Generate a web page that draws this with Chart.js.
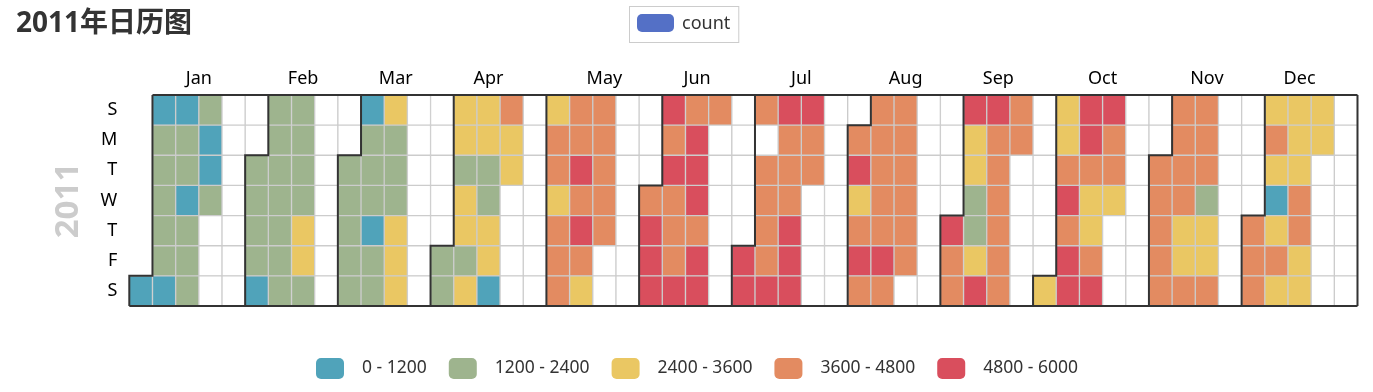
<!DOCTYPE html>
<html>
<head>
<meta charset="utf-8">
<title>2011年日历图</title>
<script src="https://cdn.jsdelivr.net/npm/chart.js@4.4.0/dist/chart.umd.min.js"></script>
<style>
  html, body { margin: 0; padding: 0; background: #fff; }
  #wrap { width: 1373px; height: 392px; }
</style>
</head>
<body>
<div id="wrap"><canvas id="calendar"></canvas></div>
<script>
// calendar data, 2011, daily counts for days 1-19 of each month
const year = 2011;
const monthLabels = ['Jan', 'Feb', 'Mar', 'Apr', 'May', 'Jun', 'Jul', 'Aug', 'Sep', 'Oct', 'Nov', 'Dec'];
const dayLabels = ['S', 'M', 'T', 'W', 'T', 'F', 'S'];

const pieceLabels = ['0 - 1200', '1200 - 2400', '2400 - 3600', '3600 - 4800', '4800 - 6000'];
const pieceMin = [0, 1200, 2400, 3600, 4800];
const pieceMax = [1200, 2400, 3600, 4800, 6000];
const pieceColors = ['#50a3ba', '#9eb48e', '#eac763', '#e38b61', '#d94e5d'];

const jan = [985, 801, 1349, 1562, 1600, 1606, 1510, 959, 822, 1321, 1263, 1162, 1406, 1421, 1248, 1204, 1000, 683, 1650];
const feb = [1360, 1526, 1550, 1708, 1005, 1623, 1712, 1530, 1605, 1538, 1746, 1472, 1589, 1913, 1815, 2115, 2475, 2927, 1635];
const mar = [1851, 2134, 1685, 1944, 2077, 605, 1872, 2133, 1891, 623, 1977, 2132, 2417, 2046, 2056, 2192, 2744, 3239, 3117];
const apr = [2227, 2252, 3249, 3115, 1795, 2808, 3141, 1471, 2455, 2895, 3348, 2034, 2162, 3267, 3126, 795, 3744, 3429, 3204];
const may = [3351, 4401, 4451, 2633, 4433, 4608, 4714, 4333, 4362, 4803, 4182, 4864, 4105, 3409, 4553, 3958, 4123, 3855, 4575];
const jun = [4274, 5020, 4891, 5180, 5115, 4576, 4866, 4334, 4458, 4717, 4940, 4664, 4905, 5312, 5342, 4586, 4906, 4835, 4561];
const jul = [5026, 5119, 4744, 6043, 4590, 4521, 4736, 4679, 5050, 5009, 4372, 4630, 4563, 4868, 5084, 5298, 5127, 4500, 4458];
const aug = [4151, 4904, 3359, 4412, 4996, 4602, 4302, 3974, 4526, 4561, 4668, 5129, 4391, 4672, 4400, 4663, 4609, 4710, 3802];
const sep = [4954, 4580, 4720, 4911, 3351, 2710, 1842, 1996, 3351, 4849, 5302, 4663, 4748, 4648, 3659, 4760, 4511, 4274, 4539];
const oct = [3570, 2689, 2828, 3871, 4809, 4596, 5004, 5409, 5511, 5117, 4563, 2416, 2913, 3644, 5217, 4943, 4672, 4475, 3486];
const nov = [4486, 4563, 4411, 3818, 4036, 4123, 4066, 3831, 4186, 3117, 3267, 3745, 3790, 4094, 3840, 2022, 2867, 3060, 3613];
const dec = [3940, 3899, 3717, 3520, 3741, 2917, 705, 3220, 3614, 3224, 2930, 3325, 3309, 3677, 3705, 3523, 3243, 2998, 3229];

const monthly = [jan, feb, mar, apr, may, jun, jul, aug, sep, oct, nov, dec];

const FONT = "'Noto Sans', 'Noto Sans CJK SC', sans-serif";

// week column / weekday row for a date
const firstWeekday = new Date(year, 0, 1).getDay();
function dayIndex(m, d) {
  return Math.round((new Date(year, m, d) - new Date(year, 0, 1)) / 86400000);
}
function colOf(i) { return Math.floor((i + firstWeekday) / 7); }
function rowOf(i) { return (i + firstWeekday) % 7; }

function colorFor(v) {
  if (v == null) return '#fff';
  for (let k = 0; k < pieceColors.length; k++) {
    if (v >= pieceMin[k] && v <= pieceMax[k]) return pieceColors[k];
  }
  return '#fff';
}

// one floating bar per day
const cells = [];
for (let m = 0; m < 12; m++) {
  const days = new Date(year, m + 1, 0).getDate();
  for (let d = 1; d <= days; d++) {
    const i = dayIndex(m, d);
    const v = d <= monthly[m].length ? monthly[m][d - 1] : null;
    cells.push({ x: colOf(i) + 0.5, y: [rowOf(i), rowOf(i) + 1], v: v });
  }
}
const weeks = colOf(dayIndex(11, 31)) + 1;

// month label sits in the middle of the weeks it spans
const monthCenters = monthLabels.map((_, m) => {
  const first = colOf(dayIndex(m, 1));
  const last = colOf(dayIndex(m + 1, 0));
  return (first + last + 1) / 2;
});

const decor = {
  id: 'decor',
  afterDatasetsDraw(chart) {
    const { ctx, scales: { x, y } } = chart;
    const px = v => x.getPixelForValue(v);
    const py = v => y.getPixelForValue(v);
    ctx.save();
    ctx.strokeStyle = '#333';
    ctx.lineWidth = 2;
    // boundaries at the first day of each month and the day after the year
    for (let m = 0; m <= 12; m++) {
      const i = dayIndex(m, 1);
      const c = colOf(i), r = rowOf(i);
      ctx.beginPath();
      if (r > 0) {
        ctx.moveTo(px(c + 1), py(0));
        ctx.lineTo(px(c + 1), py(r));
        ctx.lineTo(px(c), py(r));
      } else {
        ctx.moveTo(px(c), py(0));
      }
      ctx.lineTo(px(c), py(7));
      ctx.stroke();
    }
    const s = dayIndex(0, 1), e = dayIndex(12, 1);
    ctx.beginPath();
    ctx.moveTo(px(colOf(s) + (rowOf(s) > 0 ? 1 : 0)), py(0));
    ctx.lineTo(px(colOf(e) + (rowOf(e) > 0 ? 1 : 0)), py(0));
    ctx.moveTo(px(colOf(s)), py(7));
    ctx.lineTo(px(colOf(e)), py(7));
    ctx.stroke();
    ctx.restore();
  },
  afterDraw(chart) {
    const ctx = chart.ctx;
    const w = chart.width;
    ctx.save();
    // title
    ctx.fillStyle = '#333';
    ctx.font = 'bold 28px ' + FONT;
    ctx.textBaseline = 'middle';
    ctx.textAlign = 'left';
    ctx.fillText('2011年日历图', 16, 24);

    // series legend, top centre, with frame
    ctx.font = '18px ' + FONT;
    const tw = ctx.measureText('count').width;
    const boxW = 8 + 37 + 8 + tw + 8;
    const bx = Math.round(w / 2 - boxW / 2) - 3;
    ctx.strokeStyle = '#ccc';
    ctx.lineWidth = 1;
    ctx.strokeRect(bx + 0.5, 6.5, boxW, 36);
    ctx.fillStyle = '#5470c6';
    ctx.beginPath();
    ctx.roundRect(bx + 8, 14, 37, 18, 5);
    ctx.fill();
    ctx.fillStyle = '#333';
    ctx.fillText('count', bx + 53, 24);

    // piece legend, bottom
    ctx.font = '17.5px ' + FONT;
    let lx = 316;
    for (let k = 0; k < pieceLabels.length; k++) {
      ctx.fillStyle = pieceColors[k];
      ctx.beginPath();
      ctx.roundRect(lx, 358, 28, 21, 5);
      ctx.fill();
      ctx.fillStyle = '#333';
      ctx.fillText(pieceLabels[k], lx + 46, 368.5);
      lx += 46 + ctx.measureText(pieceLabels[k]).width + 22;
    }
    ctx.restore();
  }
};

new Chart(document.getElementById('calendar'), {
  type: 'bar',
  data: {
    datasets: [{
      label: 'count',
      data: cells,
      backgroundColor: c => colorFor(c.raw && c.raw.v),
      borderColor: '#ccc',
      borderWidth: 1,
      borderSkipped: false,
      barPercentage: 1,
      categoryPercentage: 1
    }]
  },
  options: {
    responsive: true,
    maintainAspectRatio: false,
    animation: false,
    layout: { padding: { left: 0, top: 0, right: 15.5, bottom: 86 } },
    plugins: {
      legend: { display: false },
      tooltip: { enabled: false }
    },
    scales: {
      x: {
        type: 'linear',
        position: 'top',
        offset: false,
        min: 0,
        max: weeks,
        grid: { display: false },
        border: { display: false },
        afterBuildTicks: s => { s.ticks = monthCenters.map(v => ({ value: v })); },
        afterFit: s => { s.height = 95; s.paddingLeft = 0; s.paddingRight = 0; },
        ticks: {
          autoSkip: false,
          maxRotation: 0,
          padding: -3,
          color: '#000',
          font: { family: FONT, size: 18 },
          callback: (v, i) => monthLabels[i]
        }
      },
      y: {
        type: 'linear',
        min: 0,
        max: 7,
        reverse: true,
        grid: { display: false },
        border: { display: false },
        afterBuildTicks: s => { s.ticks = dayLabels.map((_, i) => ({ value: i + 0.5 })); },
        afterFit: s => { s.width = 129.3; s.paddingTop = 0; s.paddingBottom = 0; },
        ticks: {
          autoSkip: false,
          padding: 4,
          color: '#000',
          font: { family: FONT, size: 18 },
          callback: (v, i) => dayLabels[i]
        },
        title: {
          display: true,
          text: String(year),
          color: '#ccc',
          font: { family: FONT, size: 33, weight: 'bold' },
          padding: { top: 49, bottom: 0 }
        }
      }
    }
  },
  plugins: [decor]
});
</script>
</body>
</html>
